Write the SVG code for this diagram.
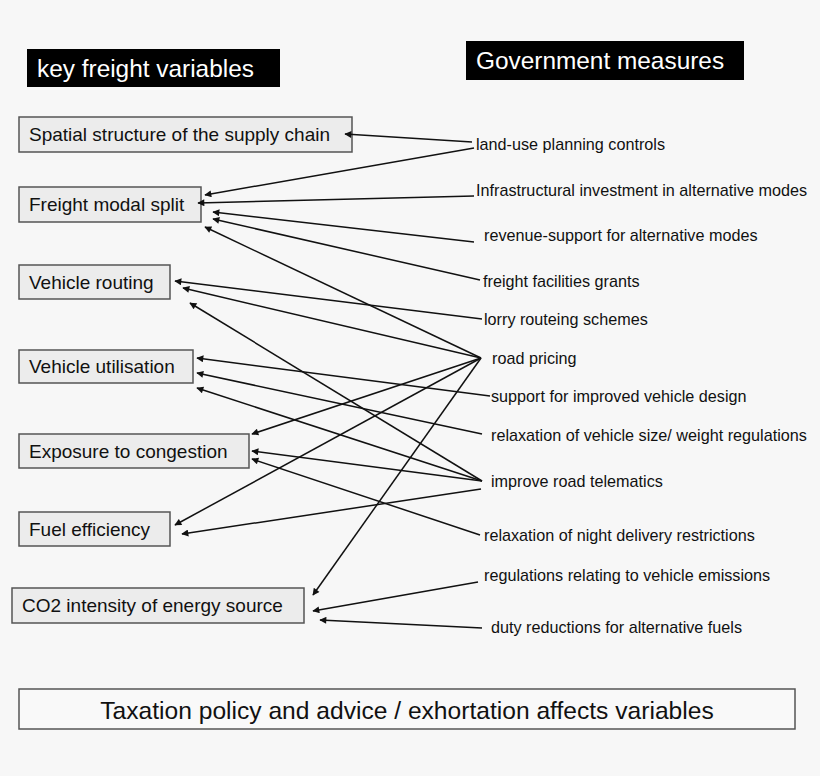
<svg xmlns="http://www.w3.org/2000/svg" width="820" height="776" viewBox="0 0 820 776">
<style>
text{font-family:"Liberation Sans",Arial,sans-serif;fill:#111}
.box rect{fill:#ececec;stroke:#555;stroke-width:1.5}
.box text{font-size:19px}
.m text{font-size:16.2px}
.hd rect{fill:#000}
.hd text{fill:#fff;font-size:24.4px}
#conn line{stroke:#111;stroke-width:1.5;marker-end:url(#ah)}
</style>
<defs><marker id="ah" viewBox="0 0 10 10" refX="9" refY="5" markerWidth="9" markerHeight="7" markerUnits="userSpaceOnUse" orient="auto"><path d="M0,0L10,5L0,10z" fill="#111"/></marker></defs>
<rect width="820" height="776" fill="#f7f7f7"/>
<g id="h1" class="hd"><rect x="27" y="49" width="253" height="38"/><text x="37" y="77">key freight variables</text></g>
<g id="h2" class="hd"><rect x="466" y="41" width="278" height="39"/><text x="476" y="69">Government measures</text></g>
<g id="n1" class="box"><rect x="19" y="117" width="333" height="35"/><text x="29" y="141">Spatial structure of the supply chain</text></g>
<g id="n2" class="box"><rect x="19" y="187" width="182" height="35"/><text x="29" y="211">Freight modal split</text></g>
<g id="n3" class="box"><rect x="19" y="265" width="151" height="34"/><text x="29" y="289">Vehicle routing</text></g>
<g id="n4" class="box"><rect x="19" y="350" width="174" height="33"/><text x="29" y="373">Vehicle utilisation</text></g>
<g id="n5" class="box"><rect x="19" y="434" width="230" height="34"/><text x="29" y="458">Exposure to congestion</text></g>
<g id="n6" class="box"><rect x="19" y="512" width="151" height="34"/><text x="29" y="536">Fuel efficiency</text></g>
<g id="n7" class="box"><rect x="12" y="588" width="292" height="35"/><text x="22" y="612">CO2 intensity of energy source</text></g>
<g id="bottom"><rect x="19" y="689" width="776" height="40" fill="#f9f9f9" stroke="#555" stroke-width="1.5"/><text x="407" y="719" font-size="24.6" text-anchor="middle">Taxation policy and advice / exhortation affects variables</text></g>
<g id="m1" class="m"><text x="476" y="150">land-use planning controls</text></g>
<g id="m2" class="m"><text x="476" y="196">Infrastructural investment in alternative modes</text></g>
<g id="m3" class="m"><text x="484" y="241">revenue-support for alternative modes</text></g>
<g id="m4" class="m"><text x="483" y="287">freight facilities grants</text></g>
<g id="m5" class="m"><text x="484" y="325">lorry routeing schemes</text></g>
<g id="m6" class="m"><text x="492" y="364">road pricing</text></g>
<g id="m7" class="m"><text x="491" y="402">support for improved vehicle design</text></g>
<g id="m8" class="m"><text x="491" y="441">relaxation of vehicle size/ weight regulations</text></g>
<g id="m9" class="m"><text x="491" y="487">improve road telematics</text></g>
<g id="m10" class="m"><text x="484" y="541">relaxation of night delivery restrictions</text></g>
<g id="m11" class="m"><text x="484" y="581">regulations relating to vehicle emissions</text></g>
<g id="m12" class="m"><text x="491" y="633">duty reductions for alternative fuels</text></g>
<g id="conn">
<line x1="472" y1="142" x2="345" y2="134"/>
<line x1="474" y1="148" x2="205" y2="195"/>
<line x1="474" y1="196" x2="198" y2="203"/>
<line x1="474" y1="242" x2="213" y2="212"/>
<line x1="480" y1="280" x2="213" y2="219"/>
<line x1="481" y1="358" x2="205" y2="227"/>
<line x1="482" y1="319" x2="175" y2="281"/>
<line x1="481" y1="358" x2="183" y2="288"/>
<line x1="482" y1="481" x2="190" y2="303"/>
<line x1="490" y1="396" x2="197" y2="358"/>
<line x1="482" y1="434" x2="197" y2="373"/>
<line x1="482" y1="481" x2="197" y2="388"/>
<line x1="481" y1="358" x2="252" y2="434"/>
<line x1="482" y1="481" x2="252" y2="451"/>
<line x1="480" y1="535" x2="252" y2="459"/>
<line x1="481" y1="358" x2="175" y2="525"/>
<line x1="481" y1="489" x2="182" y2="534"/>
<line x1="481" y1="358" x2="313" y2="595"/>
<line x1="478" y1="582" x2="313" y2="611"/>
<line x1="482" y1="628" x2="320" y2="620"/>
</g>
</svg>
